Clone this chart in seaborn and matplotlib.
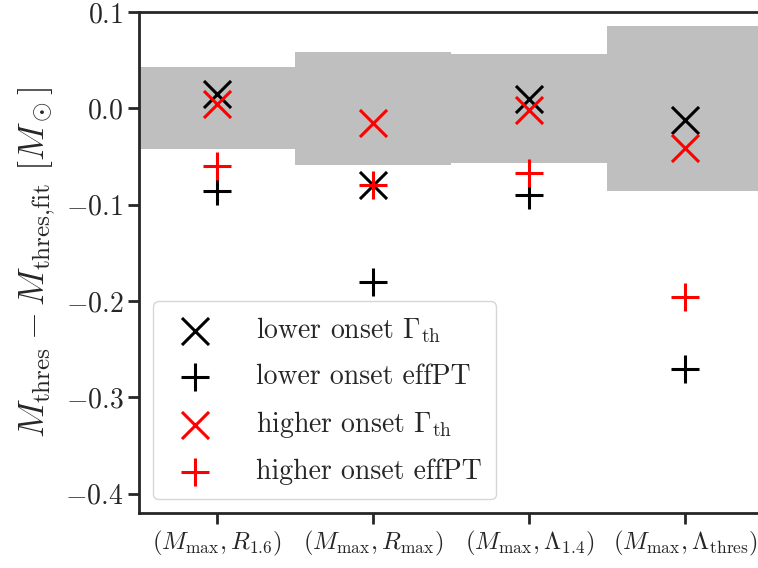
import numpy as np
import pandas as pd
import matplotlib
matplotlib.use("Agg")
import matplotlib.pyplot as plt
import seaborn as sns

# Fit pairs on the x axis
pairs = [r"$(M_{\rm max}, R_{1.6})$", r"$(M_{\rm max}, R_{\rm max})$",
         r"$(M_{\rm max}, \Lambda_{1.4})$", r"$(M_{\rm max}, \Lambda_{\rm thres})$"]

# Fit uncertainty (half-width of the grey band around zero)
fit_err = [0.0425, 0.059, 0.0565, 0.0855]

# Residuals M_thres - M_thres,fit
lower_gamma = [0.015, -0.080, 0.0095, -0.0125]
lower_effpt = [-0.0855, -0.180, -0.090, -0.271]
higher_gamma = [0.0045, -0.0155, -0.002, -0.0415]
higher_effpt = [-0.060, -0.080, -0.067, -0.196]

series_labels = [r"lower onset $\Gamma_{\rm th}$", "lower onset effPT",
                 r"higher onset $\Gamma_{\rm th}$", "higher onset effPT"]

yticks = [-0.4, -0.3, -0.2, -0.1, 0.0, 0.1]

sns.set_style("ticks")
plt.rcParams["font.family"] = "serif"
plt.rcParams["font.serif"] = ["cmr10"]
plt.rcParams["mathtext.fontset"] = "cm"
plt.rcParams["axes.formatter.use_mathtext"] = True
plt.rcParams["axes.unicode_minus"] = True

fig = plt.figure(figsize=(7.58, 5.68), dpi=100)
ax = fig.add_axes([0.1838, 0.0968, 0.8232, 0.882])

xpos = np.arange(len(pairs))
err = np.array(fit_err)
ax.bar(xpos, 2 * err, bottom=-err, width=1.0, color="#bfbfbf", linewidth=0, zorder=1)

df = pd.DataFrame({
    "x": np.tile(xpos, 4),
    "y": lower_gamma + lower_effpt + higher_gamma + higher_effpt,
    "series": np.repeat(series_labels, len(pairs)),
})
styles = [("x", "black"), ("+", "black"), ("x", "red"), ("+", "red")]
for lab, (mk, col) in zip(series_labels, styles):
    sub = df[df["series"] == lab]
    sns.scatterplot(data=sub, x="x", y="y", marker=mk, color=col, s=380,
                    linewidth=2.2, label=lab, ax=ax, zorder=3)

ax.set_xlim(-0.5, 3.5)
ax.set_ylim(-0.42, 0.1)
ax.set_xticks(xpos)
ax.set_xticklabels(pairs, fontsize=17.8)
ax.set_yticks(yticks)
ax.tick_params(axis="y", labelsize=20, length=8, width=2)
ax.tick_params(axis="x", length=8, width=2)
for s in ax.spines.values():
    s.set_linewidth(2)
ax.set_xlabel("")
ax.set_ylabel(r"$M_{\rm thres} - M_{\rm thres{,}fit}\ [M_\odot]$", fontsize=26, labelpad=6)

leg = ax.legend(loc="lower left", fontsize=20, frameon=True, fancybox=True,
                handletextpad=1.2, borderpad=0.5, labelspacing=0.68)
leg.get_frame().set_edgecolor("#cccccc")

fig.savefig("out.png", dpi=100)
